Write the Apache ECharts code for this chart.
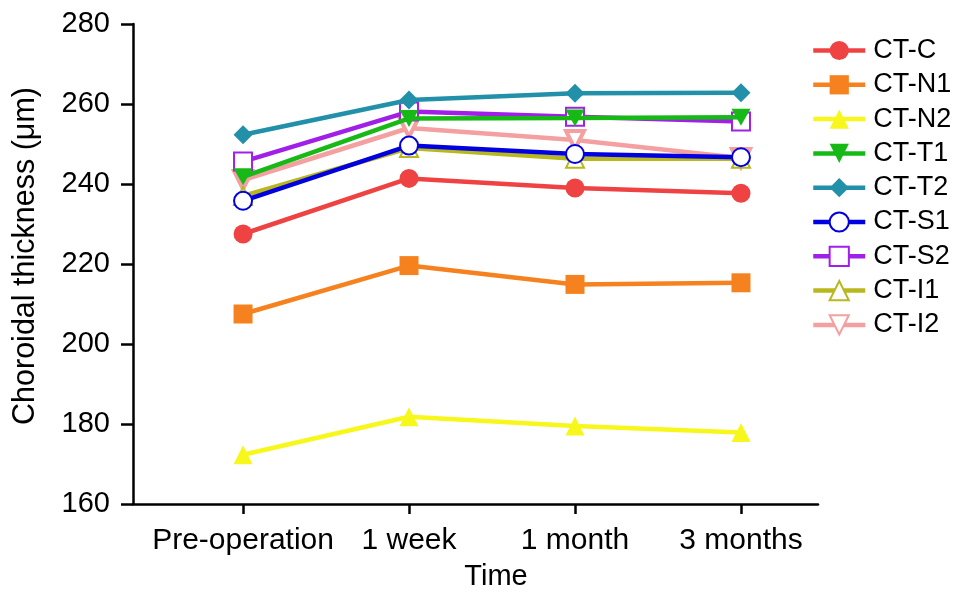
<!DOCTYPE html>
<html>
<head>
<meta charset="utf-8">
<script src="https://cdn.jsdelivr.net/npm/echarts@6/dist/echarts.min.js"></script>
<style>html,body{margin:0;padding:0;background:#fff}#c{width:969px;height:601px}</style>
</head>
<body>
<div id="c"></div>
<script>
var categories = ['Pre-operation', '1 week', '1 month', '3 months'];
var yTicks = [160, 180, 200, 220, 240, 260, 280];
var seriesNames = ['CT-C', 'CT-N1', 'CT-N2', 'CT-T1', 'CT-T2', 'CT-S1', 'CT-S2', 'CT-I1', 'CT-I2'];
var ctC  = [227.5, 241.4, 239.0, 237.7];
var ctN1 = [207.5, 219.6, 214.9, 215.3];
var ctN2 = [172.3, 181.8, 179.5, 177.9];
var ctT1 = [241.8, 256.4, 256.5, 256.7];
var ctT2 = [252.3, 261.0, 262.7, 262.8];
var ctS1 = [235.8, 249.6, 247.5, 246.7];
var ctS2 = [245.6, 258.1, 256.8, 255.6];
var ctI1 = [237.0, 249.0, 246.3, 246.3];
var ctI2 = [241.0, 254.0, 251.0, 246.5];

var values = [ctC, ctN1, ctN2, ctT1, ctT2, ctS1, ctS2, ctI1, ctI2];
var colors = ['#ef4343', '#f5821f', '#f7f71c', '#16b916', '#2190a8', '#0000e0', '#a020e8', '#b8b81e', '#f4a0a0'];
var symbols = ['circle', 'rect', 'triangle', 'path://M0,0 L2,0 L1,1.8 Z', 'diamond', 'emptyCircle', 'emptyRect', 'emptyTriangle', 'path://M0,0 L2,0 L1,1.8 Z'];
var hollow = [false, false, false, false, false, true, true, true, true];

var font = 'Liberation Sans, Arial, Helvetica, sans-serif';
var series = seriesNames.map(function (name, i) {
  var isHollow = hollow[i];
  var isDown = symbols[i].indexOf('path://') === 0;
  return {
    name: name,
    type: 'line',
    z: 20 - i,
    data: values[i].map(function (v, k) { return [k, v]; }),
    symbol: symbols[i],
    symbolSize: isHollow ? 18 : (isDown ? [19, 17] : 19),
    lineStyle: { color: colors[i], width: 4.5 },
    itemStyle: isHollow ? { color: isDown ? '#fff' : colors[i], borderColor: colors[i], borderWidth: 4 } : { color: colors[i] },
    emphasis: { disabled: true },
    animation: false
  };
});

var chart = echarts.init(document.getElementById('c'));
chart.setOption({
  backgroundColor: '#fff',
  grid: { left: 133, right: 151, top: 24, bottom: 97, containLabel: false, outerBoundsMode: 'none' },
  legend: {
    orient: 'vertical',
    left: 806,
    top: 32,
    itemWidth: 52,
    itemHeight: 24,
    itemGap: 7.3,
    data: seriesNames,
    lineStyle: { width: 4.5 },
    textStyle: { fontFamily: font, fontSize: 27, color: '#000', lineHeight: 27, padding: [0, 0, 0, 3] }
  },
  xAxis: {
    type: 'value',
    min: -0.663,
    max: 3.464,
    name: 'Time',
    nameLocation: 'middle',
    nameGap: 58,
    nameTextStyle: { fontFamily: font, fontSize: 29, color: '#000', padding: [0, 0, 0, 41] },
    axisLine: { onZero: false, lineStyle: { color: '#000', width: 2.5 } },
    axisTick: { show: true, length: 10, lineStyle: { color: '#000', width: 2.5 }, customValues: [0, 1, 2, 3] },
    axisLabel: {
      customValues: [0, 1, 2, 3],
      margin: 22,
      fontFamily: font, fontSize: 30, color: '#000',
      formatter: function (v) { return categories[Math.round(v)]; }
    },
    splitLine: { show: false }
  },
  yAxis: {
    type: 'value',
    min: yTicks[0],
    max: yTicks[yTicks.length - 1],
    interval: 20,
    name: 'Choroidal thickness (μm)',
    nameLocation: 'middle',
    nameGap: 92,
    nameTextStyle: { fontFamily: font, fontSize: 30.5, color: '#000', padding: [0, 0, 0, 16] },
    axisLine: { show: true, onZero: false, lineStyle: { color: '#000', width: 2.5 } },
    axisTick: { show: true, length: 12, lineStyle: { color: '#000', width: 2.5 } },
    axisLabel: { margin: 23, fontFamily: font, fontSize: 29, color: '#000' },
    splitLine: { show: false }
  },
  series: series
});
</script>
</body>
</html>
